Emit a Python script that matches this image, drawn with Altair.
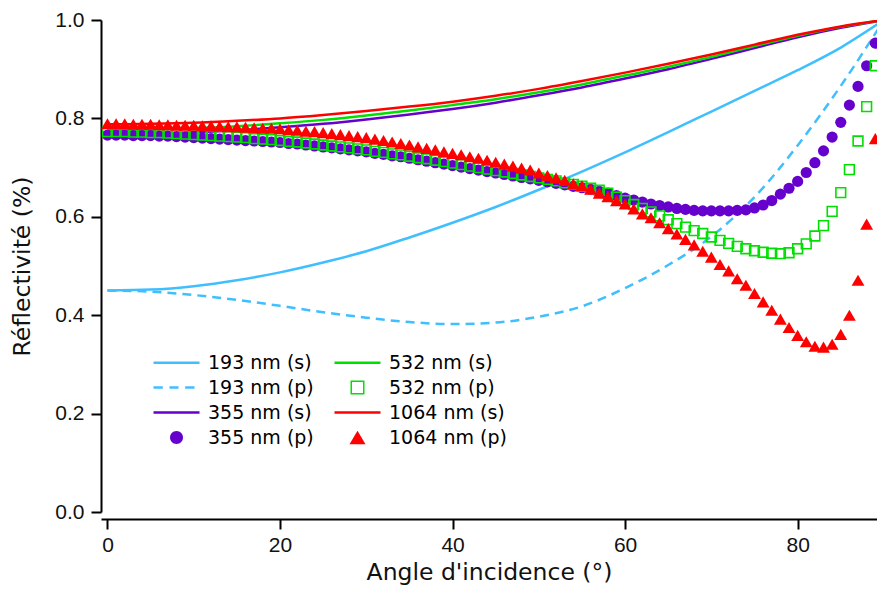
import altair as alt
import pandas as pd

# ---------------- data ----------------
angles = list(range(90))

r355p = [0.766, 0.766, 0.766, 0.765, 0.765, 0.765, 0.764, 0.764, 0.763, 0.762,
         0.761, 0.760, 0.759, 0.758, 0.757, 0.756, 0.755, 0.754, 0.753, 0.752,
         0.751, 0.749, 0.748, 0.746, 0.744, 0.742, 0.740, 0.738, 0.736, 0.734,
         0.732, 0.729, 0.727, 0.724, 0.722, 0.719, 0.716, 0.713, 0.710, 0.707,
         0.704, 0.701, 0.698, 0.695, 0.692, 0.689, 0.686, 0.683, 0.680, 0.677,
         0.674, 0.671, 0.668, 0.665, 0.662, 0.659, 0.656, 0.652, 0.648, 0.643,
         0.638, 0.634, 0.630, 0.626, 0.623, 0.620, 0.617, 0.615, 0.613, 0.612,
         0.612, 0.612, 0.612, 0.613, 0.614, 0.618, 0.624, 0.633, 0.646, 0.658,
         0.672, 0.690, 0.710, 0.734, 0.762, 0.792, 0.827, 0.865, 0.907, 0.953]

r532p = [0.773, 0.773, 0.773, 0.772, 0.772, 0.771, 0.771, 0.770, 0.769, 0.768,
         0.767, 0.766, 0.765, 0.764, 0.763, 0.762, 0.761, 0.759, 0.758, 0.757,
         0.755, 0.753, 0.752, 0.750, 0.748, 0.746, 0.744, 0.742, 0.740, 0.738,
         0.736, 0.733, 0.731, 0.728, 0.726, 0.723, 0.720, 0.718, 0.715, 0.712,
         0.709, 0.706, 0.703, 0.700, 0.697, 0.694, 0.691, 0.688, 0.685, 0.682,
         0.679, 0.676, 0.673, 0.669, 0.666, 0.662, 0.658, 0.654, 0.648, 0.640,
         0.633, 0.625, 0.617, 0.610, 0.602, 0.594, 0.586, 0.579, 0.572, 0.566,
         0.559, 0.552, 0.546, 0.540, 0.535, 0.531, 0.528, 0.526, 0.525, 0.527,
         0.535, 0.545, 0.561, 0.582, 0.611, 0.649, 0.696, 0.754, 0.824, 0.907]

r1064p = [0.789, 0.789, 0.789, 0.788, 0.788, 0.788, 0.787, 0.787, 0.786, 0.786,
          0.786, 0.785, 0.785, 0.784, 0.783, 0.783, 0.782, 0.781, 0.780, 0.780,
          0.779, 0.777, 0.776, 0.774, 0.773, 0.771, 0.769, 0.767, 0.765, 0.763,
          0.761, 0.758, 0.755, 0.752, 0.749, 0.746, 0.742, 0.739, 0.736, 0.732,
          0.729, 0.726, 0.722, 0.719, 0.715, 0.711, 0.707, 0.703, 0.699, 0.695,
          0.689, 0.684, 0.679, 0.674, 0.667, 0.663, 0.656, 0.648, 0.641, 0.633,
          0.626, 0.616, 0.606, 0.598, 0.588, 0.576, 0.565, 0.554, 0.543, 0.530,
          0.518, 0.503, 0.490, 0.474, 0.461, 0.444, 0.427, 0.410, 0.392, 0.375,
          0.359, 0.346, 0.337, 0.335, 0.341, 0.361, 0.400, 0.471, 0.585, 0.759]

line_angles = [0, 5, 10, 15, 20, 25, 30, 35, 40, 45, 50, 55, 60, 65, 70, 75, 80, 85, 90]
r193s = [0.450, 0.452, 0.459, 0.471, 0.487, 0.507, 0.530, 0.558, 0.588, 0.620,
         0.655, 0.692, 0.731, 0.772, 0.814, 0.856, 0.898, 0.944, 1.000]
r193p = [0.450, 0.448, 0.441, 0.431, 0.419, 0.406, 0.395, 0.386, 0.382, 0.385,
         0.397, 0.418, 0.455, 0.502, 0.560, 0.640, 0.745, 0.866, 1.000]
r355s = [0.768, 0.769, 0.772, 0.776, 0.782, 0.789, 0.798, 0.808, 0.819, 0.832,
         0.847, 0.863, 0.881, 0.900, 0.921, 0.943, 0.965, 0.984, 1.000]
r532s = [0.776, 0.777, 0.780, 0.784, 0.790, 0.797, 0.806, 0.816, 0.827, 0.839,
         0.853, 0.869, 0.887, 0.905, 0.925, 0.947, 0.968, 0.986, 1.000]
r1064s = [0.788, 0.789, 0.791, 0.795, 0.800, 0.807, 0.815, 0.824, 0.834, 0.846,
          0.860, 0.876, 0.893, 0.911, 0.930, 0.950, 0.970, 0.987, 1.000]

# legend entries (column-wise order for a 2-column legend)
legend_order = ['193 nm (s)', '193 nm (p)', '355 nm (s)', '355 nm (p)',
                '532 nm (s)', '532 nm (p)', '1064 nm (s)', '1064 nm (p)']

BLUE, PURPLE, GREEN, RED = '#40BFFF', '#6600CC', '#00E000', '#FF0000'
series_color = {'193 nm (s)': BLUE, '193 nm (p)': BLUE, '355 nm (s)': PURPLE, '355 nm (p)': PURPLE,
                '532 nm (s)': GREEN, '532 nm (p)': GREEN, '1064 nm (s)': RED, '1064 nm (p)': RED}


def frame(xs, ys, name):
    return pd.DataFrame({'angle': xs, 'R': ys, 'series': name})


# ---------------- legend symbols (filled paths, unit = 5 px) ----------------
LINE_PATH = 'M-4.6,-0.25H4.6V0.25H-4.6Z'
DASH_PATH = ('M-4.6,-0.25H-2.74V0.25H-4.6Z'
             'M-1.4,-0.25H0.4V0.25H-1.4Z'
             'M1.74,-0.25H3.6V0.25H1.74Z')
CIRCLE_PATH = 'M-1.3,0A1.3,1.3,0,1,1,1.3,0A1.3,1.3,0,1,1,-1.3,0Z'
SQUARE_PATH = 'M-1.4,-1.4H1.4V1.4H-1.4ZM-1.1,-1.1V1.1H1.1V-1.1Z'
TRI_PATH = 'M0,-1.35L1.6,1.35L-1.6,1.35Z'
symbol_for = {'193 nm (s)': LINE_PATH, '193 nm (p)': DASH_PATH, '355 nm (s)': LINE_PATH,
              '355 nm (p)': CIRCLE_PATH, '532 nm (s)': LINE_PATH, '532 nm (p)': SQUARE_PATH,
              '1064 nm (s)': LINE_PATH, '1064 nm (p)': TRI_PATH}

legend = alt.Legend(
    title=None, orient='none', legendX=66, legendY=333, columns=2,
    columnPadding=20, rowPadding=5, padding=0,
    symbolSize=100, symbolStrokeWidth=0, symbolOpacity=1,
    labelFont='DejaVu Sans', labelFontSize=19, labelColor='black', labelOffset=22,
    labelLimit=300,
)

color_scale = alt.Scale(domain=legend_order, range=[series_color[s] for s in legend_order])
shape_scale = alt.Scale(domain=legend_order, range=[symbol_for[s] for s in legend_order])

PLOT_W, PLOT_H = 776, 492

X = alt.X('angle:Q', scale=alt.Scale(domain=[-0.75, 89.2], nice=False, zero=False),
          axis=alt.Axis(values=[0, 20, 40, 60, 80], title="Angle d'incidence (°)", offset=7,
                        labelPadding=5, titlePadding=5))
Y = alt.Y('R:Q', scale=alt.Scale(domain=[0, 1], nice=False, zero=False),
          axis=alt.Axis(values=[0, 0.2, 0.4, 0.6, 0.8, 1.0], format='.1f', title='Réflectivité (%)',
                        labelPadding=7, titleX=-79, titleY=PLOT_H / 2, titleAngle=270,
                        titleAlign='center', titleBaseline='middle'))


def line_layer(df, dashed=False):
    kw = dict(strokeWidth=2.5, clip=True, interpolate='monotone')
    if dashed:
        kw['strokeDash'] = [9, 6]
    return alt.Chart(df).mark_line(**kw).encode(
        x=X, y=Y,
        color=alt.Color('series:N', scale=color_scale, legend=None),
    )


def point_layer(df, **kw):
    return alt.Chart(df).mark_point(opacity=1, clip=True, **kw).encode(
        x=X, y=Y,
        color=alt.Color('series:N', scale=color_scale, legend=None),
    )


# invisible layer that only carries the legend (one row per legend entry); first so its legend wins
legend_df = pd.DataFrame({'angle': [0] * len(legend_order), 'R': [0.5] * len(legend_order),
                          'series': legend_order})
legend_layer = alt.Chart(legend_df).mark_point(filled=True, opacity=0, size=1).encode(
    x=X, y=Y,
    color=alt.Color('series:N', scale=color_scale, legend=legend),
    shape=alt.Shape('series:N', scale=shape_scale, legend=legend),
)

layers = [
    legend_layer,
    line_layer(frame(line_angles, r193s, '193 nm (s)')),
    line_layer(frame(line_angles, r193p, '193 nm (p)'), dashed=True),
    line_layer(frame(line_angles, r355s, '355 nm (s)')),
    line_layer(frame(line_angles, r532s, '532 nm (s)')),
    line_layer(frame(line_angles, r1064s, '1064 nm (s)')),
    point_layer(frame(angles, r355p, '355 nm (p)'), shape='circle', filled=True, size=125),
    point_layer(frame(angles, r532p, '532 nm (p)'), shape='square', filled=False, size=95, strokeWidth=1.6),
    point_layer(frame(angles, r1064p, '1064 nm (p)'), shape='triangle-up', filled=True, size=165),
]

chart = alt.layer(*layers).properties(
    width=PLOT_W, height=PLOT_H,
    autosize=alt.AutoSizeParams(type='none'),
    padding={'left': 93, 'top': 12, 'right': 0, 'bottom': 76},
).configure_view(stroke=None).configure_axis(
    grid=False, domainColor='black', domainWidth=2, tickColor='black', tickWidth=2, tickSize=10,
    labelFont='Liberation Sans', labelFontSize=21, labelColor='#111',
    titleFont='DejaVu Sans', titleFontSize=23.5, titleFontWeight='normal', titleColor='#111',
)

chart.save('out.html', embed_options={'renderer': 'svg', 'actions': False})
